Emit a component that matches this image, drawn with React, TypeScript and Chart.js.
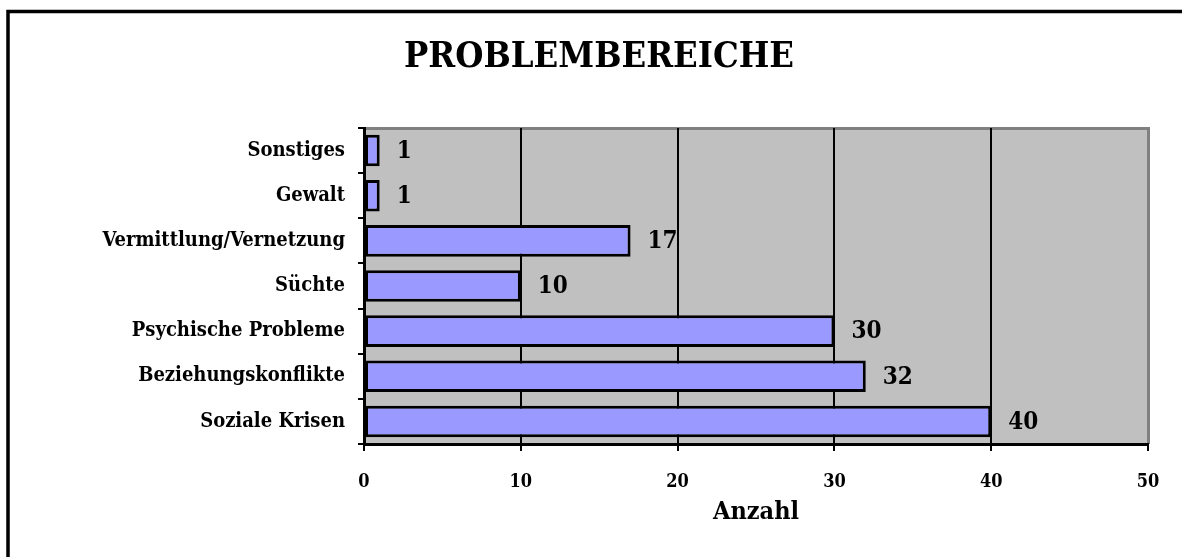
import React, { useEffect, useRef } from "react";
import { Chart, registerables } from "chart.js";

Chart.register(...registerables);

const categories = [
  "Sonstiges",
  "Gewalt",
  "Vermittlung/Vernetzung",
  "Süchte",
  "Psychische Probleme",
  "Beziehungskonflikte",
  "Soziale Krisen",
];
const values = [1, 1, 17, 10, 30, 32, 40];
const chartTitle = "PROBLEMBEREICHE";
const xTitle = "Anzahl";
const xMin = 0;
const xMax = 50;
const xStep = 10;

const FONT = "'DejaVu Serif Condensed', 'DejaVu Serif', serif";

const W = 1182;
const H = 557;
const AREA = { left: 364, right: 1148, top: 128, bottom: 444 };

const decor = {
  id: "decor",
  beforeDraw(chart: any) {
    const { ctx, chartArea } = chart;
    ctx.save();
    ctx.fillStyle = "#ffffff";
    ctx.fillRect(0, 0, chart.width, chart.height);
    ctx.fillStyle = "#C0C0C0";
    ctx.fillRect(chartArea.left, chartArea.top, chartArea.right - chartArea.left, chartArea.bottom - chartArea.top);
    ctx.strokeStyle = "#808080";
    ctx.lineWidth = 3;
    ctx.beginPath();
    ctx.moveTo(chartArea.left, chartArea.top + 0.5);
    ctx.lineTo(chartArea.right + 0.5, chartArea.top + 0.5);
    ctx.lineTo(chartArea.right + 0.5, chartArea.bottom);
    ctx.stroke();
    // outer frame
    ctx.strokeStyle = "#000000";
    ctx.lineWidth = 3.5;
    ctx.strokeRect(8, 11.5, 1400, 800);
    ctx.restore();
  },
  afterDraw(chart: any) {
    const { ctx } = chart;
    ctx.save();
    ctx.fillStyle = "#000";
    ctx.font = `bold 36px ${FONT}`;
    ctx.textAlign = "center";
    ctx.textBaseline = "alphabetic";
    ctx.fillText(chartTitle, 599, 67);
    ctx.restore();
  },
};

const valueLabels = {
  id: "valueLabels",
  afterDatasetsDraw(chart: any) {
    const { ctx } = chart;
    const meta = chart.getDatasetMeta(0);
    ctx.save();
    ctx.fillStyle = "#000";
    ctx.font = `bold 24px ${FONT}`;
    ctx.textAlign = "left";
    ctx.textBaseline = "middle";
    meta.data.forEach((el: any, i: number) => {
      ctx.fillText(String(values[i]), el.x + 17, el.y + 1);
    });
    ctx.restore();
  },
};

export default function App() {
  const ref = useRef<HTMLCanvasElement>(null);
  useEffect(() => {
    document.body.style.margin = "0";
    const chart = new Chart(ref.current!, {
      type: "bar",
      data: {
        labels: categories,
        datasets: [
          {
            data: values,
            backgroundColor: "#9999FF",
            borderColor: "#000000",
            borderWidth: 3,
            borderSkipped: false,
            barPercentage: 0.7,
            categoryPercentage: 1,
          },
        ],
      },
      options: {
        indexAxis: "y",
        responsive: false,
        animation: false,
        devicePixelRatio: 1,
        layout: { padding: { left: 10, right: W - AREA.right, top: AREA.top, bottom: 0 } },
        plugins: {
          legend: { display: false },
          title: { display: false },
          tooltip: { enabled: false },
        },
        scales: {
          x: {
            type: "linear",
            min: xMin,
            max: xMax,
            ticks: {
              stepSize: xStep,
              color: "#000",
              padding: 21,
              font: { family: FONT, size: 18, weight: "bold" },
            },
            grid: {
              color: (c: any) => (c.tick && c.tick.value === xMax ? "#808080" : "#000000"),
              tickColor: "#000000",
              lineWidth: 2,
              tickLength: 7,
              drawOnChartArea: true,
            },
            border: { color: "#000", width: 3 },
            title: {
              display: true,
              text: xTitle,
              color: "#000",
              font: { family: FONT, size: 25, weight: "bold" },
              padding: { top: 0, bottom: 30 },
            },
            afterFit: (scale: any) => {
              scale.height = H - AREA.bottom;
            },
          },
          y: {
            type: "category",
            ticks: {
              color: "#000",
              padding: 13,
              font: { family: FONT, size: 20, weight: "bold" },
            },
            grid: {
              offset: true,
              drawOnChartArea: false,
              tickColor: "#000",
              lineWidth: 2,
              tickLength: 6,
            },
            border: { color: "#000", width: 3 },
            afterFit: (scale: any) => {
              scale.width = AREA.left - 10;
            },
          },
        },
      },
      plugins: [decor, valueLabels],
    });
    return () => chart.destroy();
  }, []);
  return (
    <div style={{ width: W, height: H }}>
      <canvas ref={ref} width={W} height={H} style={{ display: "block" }} />
    </div>
  );
}
